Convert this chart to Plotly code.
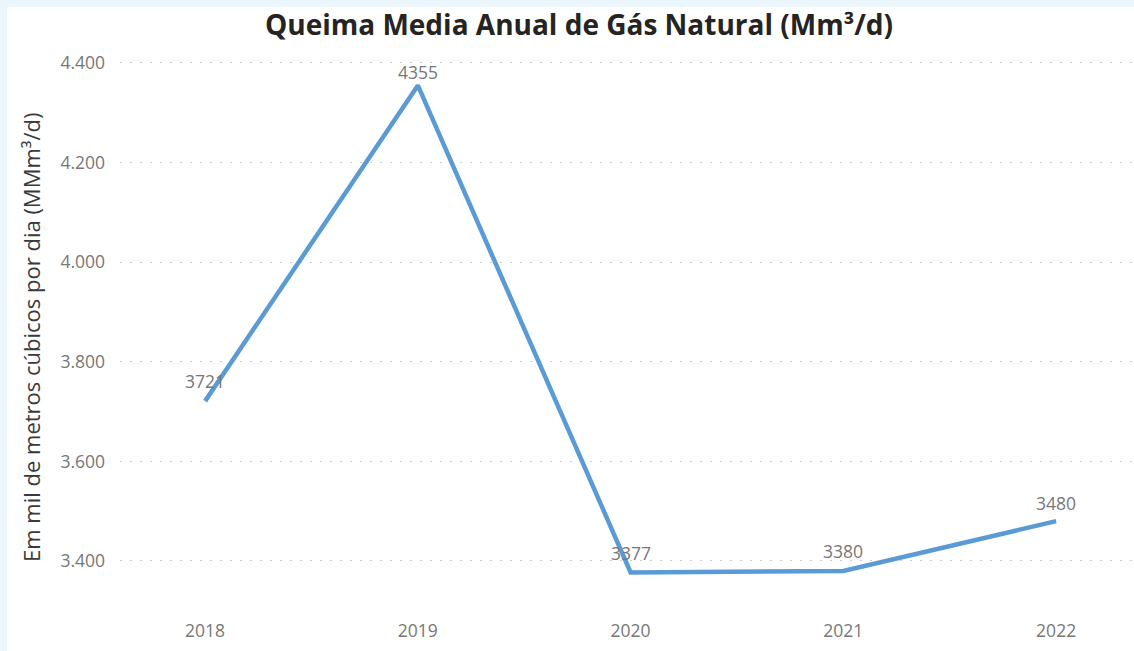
import plotly.graph_objects as go

years = ["2018", "2019", "2020", "2021", "2022"]
values = [3721, 4355, 3377, 3380, 3480]
label_shift = [20, 13, 19, 20, 18]
y_ticks = [3400, 3600, 3800, 4000, 4200, 4400]
y_tick_labels = ["3.400", "3.600", "3.800", "4.000", "4.200", "4.400"]

W, H = 1134, 651
L, R, T, B = 120, 0, 45, 46
FONT = "Open Sans, sans-serif"

fig = go.Figure()
fig.add_trace(go.Scatter(
    x=years, y=values, mode="lines",
    line=dict(color="#5B9BD5", width=4.5),
    cliponaxis=False, hoverinfo="skip", showlegend=False,
))

pw = W - L - R
ph = H - T - B
fig.add_shape(type="rect", xref="paper", yref="paper",
              x0=(7 - L) / pw, x1=1.0, y0=-B / ph, y1=1 + (T - 7) / ph,
              fillcolor="white", line=dict(width=0), layer="below")

# data labels: x given as the category index on the category axis
for i, (v, s) in enumerate(zip(values, label_shift)):
    fig.add_annotation(x=i, y=v, xref="x", yref="y", text=str(v), showarrow=False,
                       yanchor="middle", xanchor="center", yshift=s,
                       font=dict(family=FONT, size=17.5, color="#777777"))

fig.add_annotation(xref="paper", yref="paper",
                   x=(31 - L) / pw, y=1 - (338 - T) / ph,
                   text="Em mil de metros cúbicos por dia (MMm³/d)",
                   textangle=-90, showarrow=False, xanchor="center", yanchor="middle",
                   font=dict(family=FONT, size=22, color="#3A3A3A"))

fig.update_layout(
    width=W, height=H,
    margin=dict(l=L, r=R, t=T, b=B),
    paper_bgcolor="#EBF5FC", plot_bgcolor="white",
    title=dict(text="<b>Queima Media Anual de Gás Natural (Mm³/d)</b>",
               x=579 / W, xanchor="center", y=1 - 25 / H, yanchor="middle",
               font=dict(family=FONT, size=28, color="#252423")),
    xaxis=dict(type="category", range=[-0.4, 4.366], showgrid=False,
               zeroline=False, showline=False, ticks="",
               tickfont=dict(family=FONT, size=17.5, color="#777777"),
               ticklabelstandoff=13),
    yaxis=dict(range=[3311.6, 4436.1], tickvals=y_ticks, ticktext=y_tick_labels,
               showgrid=True, gridcolor="#CCCCCC", griddash="2px,8px", gridwidth=1,
               zeroline=False, showline=False, ticks="",
               tickfont=dict(family=FONT, size=17.5, color="#777777"),
               ticklabelstandoff=14),
)

fig.write_html("out.html", config={"displayModeBar": False},
               post_script="document.body.style.margin='0';document.body.style.overflow='hidden';")
